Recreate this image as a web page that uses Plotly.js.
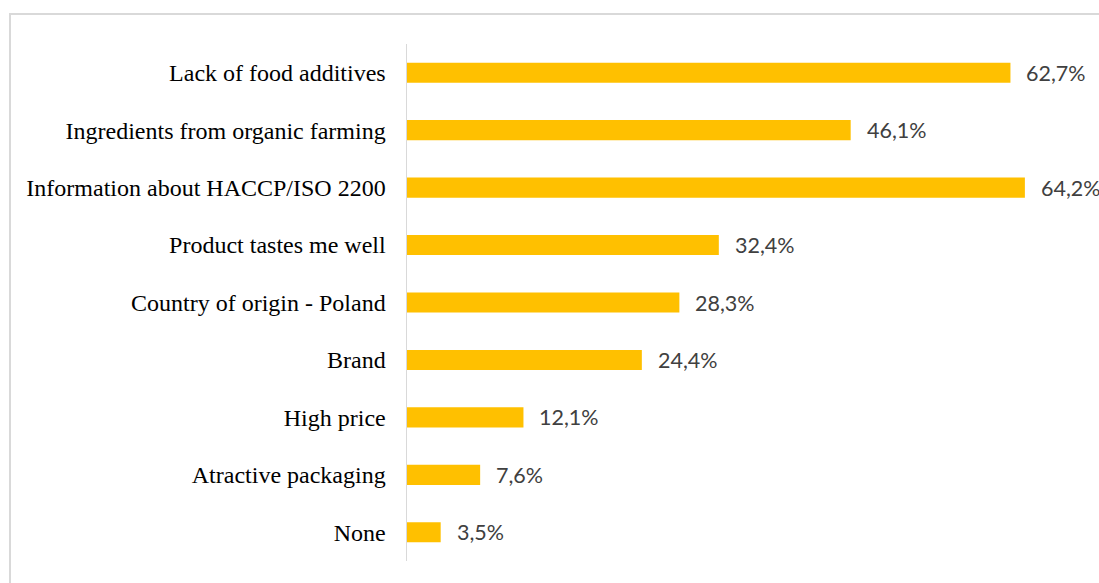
<!DOCTYPE html>
<html>
<head>
<meta charset="utf-8">
<script src="https://cdn.plot.ly/plotly-3.0.1.min.js"></script>
<style>
html,body{margin:0;padding:0;background:#fff;overflow:hidden;}
#frame{position:absolute;left:9px;top:13px;width:1300px;height:800px;border:2px solid #d9d9d9;box-sizing:border-box;pointer-events:none;z-index:2;}
#chart{position:absolute;left:0;top:0;width:1099px;height:583px;}
</style>
</head>
<body>
<div id="chart"></div>
<div id="frame"></div>
<script>
const categories = ["Lack of food additives","Ingredients from organic farming","Information about HACCP/ISO 2200","Product tastes me well","Country of origin - Poland","Brand","High price","Atractive packaging","None"];
const values = [62.7, 46.1, 64.2, 32.4, 28.3, 24.4, 12.1, 7.6, 3.5];
const valueLabels = values.map(v => v.toFixed(1).replace('.', ',') + '%');

const trace = {
  type: 'bar', orientation: 'h',
  x: values, y: categories,
  marker: {color: '#FFC000'},
  width: 0.35,
  hoverinfo: 'none'
};

const annotations = values.map((v, i) => ({
  x: v, y: categories[i], xref: 'x', yref: 'y',
  text: valueLabels[i], showarrow: false,
  xanchor: 'left', yanchor: 'middle', xshift: 14,
  font: {family: 'Lato, "Open Sans", sans-serif', size: 21.5, color: '#404040'}
}));

const layout = {
  width: 1099, height: 583,
  margin: {l: 407, r: 0, t: 44, b: 22},
  paper_bgcolor: '#fff', plot_bgcolor: '#fff',
  showlegend: false,
  xaxis: {range: [0, 71.9], showgrid: false, zeroline: false, showticklabels: false, showline: false, fixedrange: true},
  yaxis: {
    categoryorder: 'array', categoryarray: categories, autorange: 'reversed',
    showgrid: false, zeroline: false, showline: true, linecolor: '#d9d9d9', linewidth: 1.5,
    ticks: '', ticklabelstandoff: 15,
    tickfont: {family: '"Liberation Serif", "Times New Roman", serif', size: 24, color: '#000'}
  },
  annotations: annotations
};

Plotly.newPlot('chart', [trace], layout, {displayModeBar: false, staticPlot: true});
</script>
</body>
</html>
